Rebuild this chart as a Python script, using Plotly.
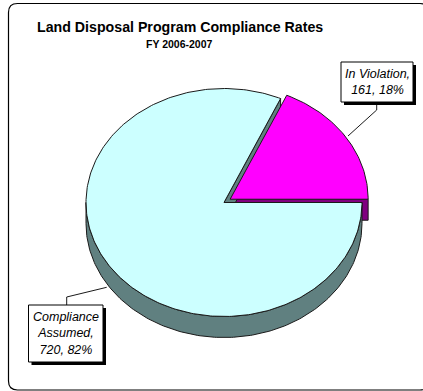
import numpy as np
import plotly.graph_objects as go

# Survey data
categories = ["Compliance Assumed", "In Violation"]
counts = [720, 161]
label_lines = [["Compliance", "Assumed,"], ["In Violation,"]]

top_colors = ["#ccffff", "#ff00ff"]
side_colors = ["#608080", "#800080"]
edge = "#1a1a1a"

# Pie geometry (pixel space)
CX, CY = 224.0, 202.5
RX, RY = 138.0, 114.0
DEPTH = 21.0
EXPLODE = [0.0, 0.053]

total = sum(counts)
shares = [c / total for c in counts]

# "In Violation" starts at 3 o'clock and runs counter-clockwise;
# the remaining share closes the circle.
v_span = 360.0 * shares[1]
spans = {1: (0.0, v_span), 0: (v_span, 360.0)}


def rim(deg, dx=0.0, dy=0.0, drop=0.0):
    t = np.radians(deg)
    return CX + dx + RX * np.cos(t), CY + dy - RY * np.sin(t) + drop


def offset(i):
    a0, a1 = spans[i]
    mid = np.radians((a0 + a1) / 2)
    return EXPLODE[i] * RX * np.cos(mid), -EXPLODE[i] * RY * np.sin(mid)


def poly(xs, ys, fill, name):
    return go.Scatter(
        x=list(xs) + [xs[0]], y=list(ys) + [ys[0]],
        mode="lines", fill="toself", fillcolor=fill,
        line=dict(color=edge, width=1), hoverinfo="skip",
        showlegend=False, name=name,
    )


fig = go.Figure()

# --- violation slice: radial wall along its lower edge
vdx, vdy = offset(1)
vx0, vy0 = CX + vdx, CY + vdy
rx_, ry_ = rim(0.0, vdx, vdy)
fig.add_trace(poly([vx0, rx_, rx_, vx0], [vy0, ry_, ry_ + DEPTH, vy0 + DEPTH],
                   side_colors[1], "violation wall"))

# --- compliance slice: radial wall at its start edge
a0, a1 = spans[0]
ex, ey = rim(a0)
fig.add_trace(poly([CX, ex, ex, CX], [CY, ey, ey + DEPTH, CY + DEPTH],
                   side_colors[0], "compliance cut"))

# --- compliance slice: front outer wall (lower half of the ellipse)
arc = np.linspace(180.0, 360.0, 181)
tx, ty = rim(arc)
wx = np.concatenate([tx, tx[::-1]])
wy = np.concatenate([ty, (ty + DEPTH)[::-1]])
fig.add_trace(poly(wx, wy, side_colors[0], "compliance wall"))

# --- top faces
for i in (0, 1):
    s0, s1 = spans[i]
    dx, dy = offset(i)
    angs = np.linspace(s0, s1, max(int(s1 - s0) + 2, 3))
    px, py = rim(angs, dx, dy)
    fig.add_trace(poly(np.concatenate([[CX + dx], px]),
                       np.concatenate([[CY + dy], py]),
                       top_colors[i], categories[i]))

# --- leader lines
leaders = [
    ([66.7, 66.7, 106.7], [305.0, 297.0, 287.3]),
    ([376.7, 376.7, 348.0], [102.0, 110.0, 136.0]),
]
for lx, ly in leaders:
    fig.add_trace(go.Scatter(x=lx, y=ly, mode="lines",
                             line=dict(color=edge, width=1),
                             hoverinfo="skip", showlegend=False))

shapes = []
annotations = []

# Outer rounded frame
L, T, R, B, r = 8.5, 3.5, 429.0, 390.0, 9.0
shapes.append(dict(
    type="path", xref="x", yref="y", layer="below",
    path=(f"M {L+r},{T} L {R-r},{T} Q {R},{T} {R},{T+r} L {R},{B-r} "
          f"Q {R},{B} {R-r},{B} L {L+r},{B} Q {L},{B} {L},{B-r} "
          f"L {L},{T+r} Q {L},{T} {L+r},{T} Z"),
    line=dict(color="#000000", width=1.2), fillcolor="rgba(0,0,0,0)",
))

# Label boxes (with drop shadow) and their text
boxes = [
    (28.5, 305.0, 103.0, 362.0),
    (341.0, 62.0, 413.0, 102.0),
]
for i, (x0, y0, x1, y1) in enumerate(boxes):
    shapes.append(dict(type="rect", xref="x", yref="y", layer="above",
                       x0=x0 + 3, y0=y0 + 3, x1=x1 + 3, y1=y1 + 3,
                       fillcolor="#000000", line=dict(width=0)))
    shapes.append(dict(type="rect", xref="x", yref="y", layer="above",
                       x0=x0, y0=y0, x1=x1, y1=y1,
                       fillcolor="#ffffff", line=dict(color="#000000", width=1)))
    pct = round(100 * shares[i])
    text = "<br>".join(label_lines[i] + [f"{counts[i]}, {pct}%"])
    annotations.append(dict(
        x=(x0 + x1) / 2, y=(y0 + y1) / 2, xref="x", yref="y",
        text=f"<i>{text}</i>", showarrow=False, align="center",
        font=dict(family="Arial, Liberation Sans", size=12.5, color="#000000"),
    ))

# Titles
annotations.append(dict(
    x=180, y=27, xref="x", yref="y", showarrow=False,
    text="<b>Land Disposal Program Compliance Rates</b>",
    font=dict(family="Arial, Liberation Sans", size=14.2, color="#000000"),
))
annotations.append(dict(
    x=179, y=43.5, xref="x", yref="y", showarrow=False,
    text="<b>FY 2006-2007</b>",
    font=dict(family="Arial, Liberation Sans", size=10.5, color="#000000"),
))

fig.update_layout(
    width=423, height=391,
    margin=dict(l=0, r=0, t=0, b=0),
    paper_bgcolor="#ffffff", plot_bgcolor="#ffffff",
    xaxis=dict(range=[0, 423], visible=False, fixedrange=True),
    yaxis=dict(range=[391, 0], visible=False, fixedrange=True),
    shapes=shapes, annotations=annotations,
    showlegend=False,
)

fig.write_html("out.html")
